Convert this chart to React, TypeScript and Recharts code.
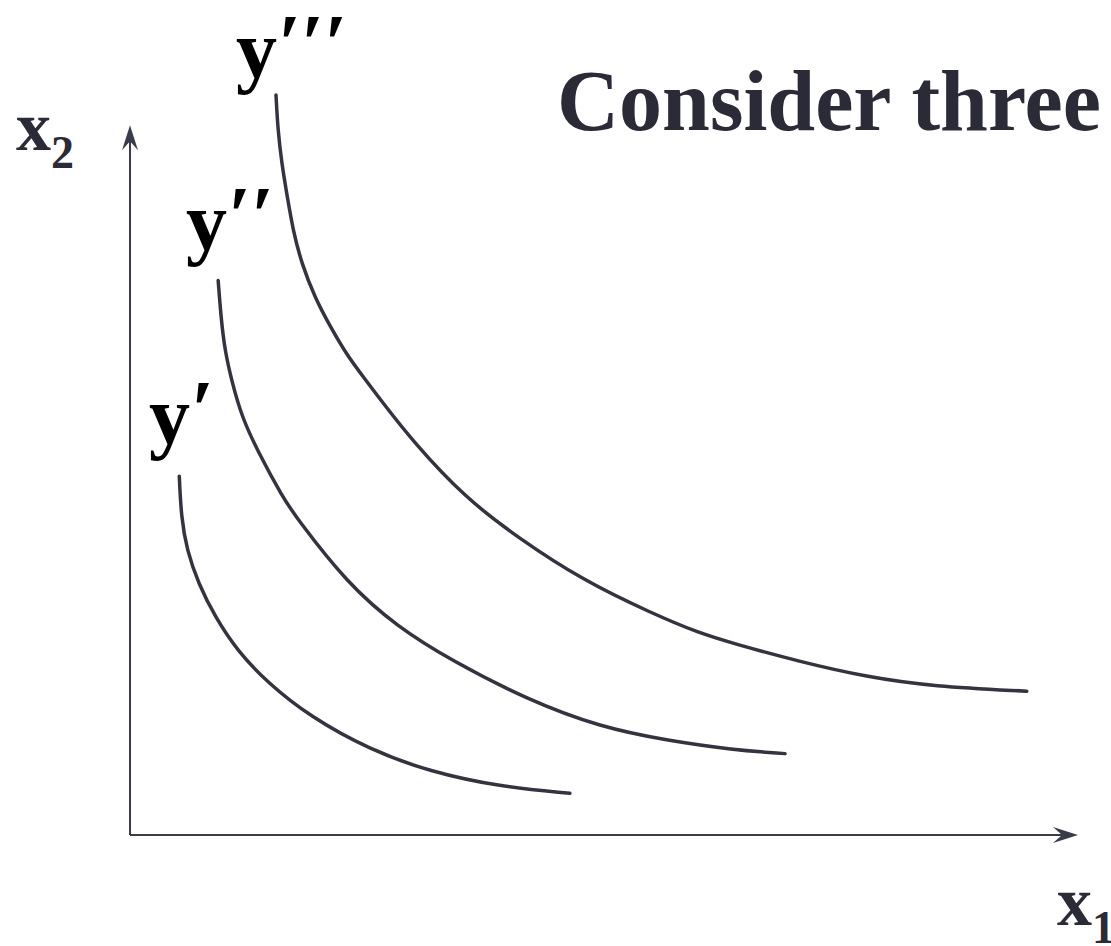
import { LineChart, Line, XAxis, YAxis, ReferenceLine } from 'recharts';

// isoquant y' (lowest)
const yPrime = [
    { x: 0.52, y: 3.79 },
    { x: 0.54, y: 3.36 },
    { x: 0.6, y: 3.01 },
    { x: 0.72, y: 2.66 },
    { x: 0.9, y: 2.3 },
    { x: 1.13, y: 1.95 },
    { x: 1.45, y: 1.61 },
    { x: 1.9, y: 1.25 },
    { x: 2.53, y: 0.9 },
    { x: 3.16, y: 0.67 },
    { x: 3.9, y: 0.51 },
    { x: 4.64, y: 0.44 },
];

// isoquant y''
const yDouble = [
    { x: 0.93, y: 5.86 },
    { x: 0.96, y: 5.47 },
    { x: 1.0, y: 5.12 },
    { x: 1.08, y: 4.77 },
    { x: 1.18, y: 4.42 },
    { x: 1.34, y: 4.07 },
    { x: 1.61, y: 3.57 },
    { x: 1.75, y: 3.36 },
    { x: 2.29, y: 2.66 },
    { x: 2.82, y: 2.2 },
    { x: 3.38, y: 1.85 },
    { x: 4.19, y: 1.43 },
    { x: 4.96, y: 1.14 },
    { x: 5.66, y: 1.0 },
    { x: 6.36, y: 0.9 },
    { x: 6.91, y: 0.86 },
];

// isoquant y''' (highest)
const yTriple = [
    { x: 1.54, y: 7.82 },
    { x: 1.56, y: 7.45 },
    { x: 1.6, y: 7.1 },
    { x: 1.66, y: 6.74 },
    { x: 1.72, y: 6.39 },
    { x: 1.81, y: 6.04 },
    { x: 1.95, y: 5.68 },
    { x: 2.12, y: 5.36 },
    { x: 2.29, y: 5.07 },
    { x: 2.47, y: 4.83 },
    { x: 2.65, y: 4.59 },
    { x: 3.0, y: 4.14 },
    { x: 3.53, y: 3.57 },
    { x: 4.08, y: 3.15 },
    { x: 4.78, y: 2.69 },
    { x: 5.49, y: 2.35 },
    { x: 6.01, y: 2.13 },
    { x: 6.38, y: 2.02 },
    { x: 7.07, y: 1.83 },
    { x: 7.77, y: 1.67 },
    { x: 8.47, y: 1.57 },
    { x: 9.46, y: 1.52 },
];

const xAxisEnd = 10;
const yAxisEnd = 7.5;

const curveColor = '#33343f';
const axisColor = '#3a3c4a';
const textColor = '#2a2b36';
const serif = '"Liberation Serif", "Times New Roman", serif';

// axis line with an arrowhead at its end
const ArrowLine = (props: any) => {
    const { x1, y1, x2, y2 } = props;
    const dx = x2 - x1;
    const dy = y2 - y1;
    const len = Math.sqrt(dx * dx + dy * dy) || 1;
    const ux = dx / len;
    const uy = dy / len;
    const px = -uy;
    const py = ux;
    const back = 25;
    const notch = 16;
    const half = 8;
    const pts = [
        [x2, y2],
        [x2 - ux * back + px * half, y2 - uy * back + py * half],
        [x2 - ux * notch, y2 - uy * notch],
        [x2 - ux * back - px * half, y2 - uy * back - py * half],
    ]
        .map(p => p.join(','))
        .join(' ');
    return (
        <g>
            <line x1={x1} y1={y1} x2={x2 - ux * 10} y2={y2 - uy * 10} stroke={axisColor} strokeWidth={2} />
            <polygon points={pts} fill={axisColor} />
        </g>
    );
};

export default function App() {
    return (
        <div style={{ position: 'absolute', left: 0, top: 0, width: 1111, height: 946, background: '#fff' }}>
            <LineChart width={1111} height={946} margin={{ top: 78, right: 33, bottom: 111, left: 130 }}>
                <XAxis type="number" dataKey="x" domain={[0, 10]} allowDataOverflow hide />
                <YAxis type="number" dataKey="y" domain={[0, 8]} allowDataOverflow hide />
                <ReferenceLine
                    segment={[{ x: 0, y: 0 }, { x: xAxisEnd, y: 0 }]}
                    shape={ArrowLine}
                    ifOverflow="visible"
                />
                <ReferenceLine
                    segment={[{ x: 0, y: 0 }, { x: 0, y: yAxisEnd }]}
                    shape={ArrowLine}
                    ifOverflow="visible"
                />
                <Line data={yPrime} dataKey="y" type="basis" stroke={curveColor} strokeWidth={3.5} strokeLinecap="round" dot={false} isAnimationActive={false} />
                <Line data={yDouble} dataKey="y" type="basis" stroke={curveColor} strokeWidth={3.5} strokeLinecap="round" dot={false} isAnimationActive={false} />
                <Line data={yTriple} dataKey="y" type="basis" stroke={curveColor} strokeWidth={3.5} strokeLinecap="round" dot={false} isAnimationActive={false} />

                <text x={557} y={130} fontFamily={serif} fontWeight="bold" fontSize={86} fill={textColor}>
                    Consider three
                </text>
                <text x={16} y={150} fontFamily={serif} fontWeight="bold" fontSize={70} fill={textColor}>
                    x<tspan fontSize={46} dy={18}>2</tspan>
                </text>
                <text x={1057} y={925} fontFamily={serif} fontWeight="bold" fontSize={70} fill={textColor}>
                    x<tspan fontSize={46} dy={18}>1</tspan>
                </text>
                <text x={236} y={77} fontFamily={serif} fontWeight="bold" fontSize={82} fill="#000">
                    y<tspan fontStyle="italic" dy={-6}>′′′</tspan>
                </text>
                <text x={186} y={249} fontFamily={serif} fontWeight="bold" fontSize={82} fill="#000">
                    y<tspan fontStyle="italic" dy={-6}>′′</tspan>
                </text>
                <text x={149} y={443} fontFamily={serif} fontWeight="bold" fontSize={82} fill="#000">
                    y<tspan fontStyle="italic" dy={-6}>′</tspan>
                </text>
            </LineChart>
        </div>
    );
}
